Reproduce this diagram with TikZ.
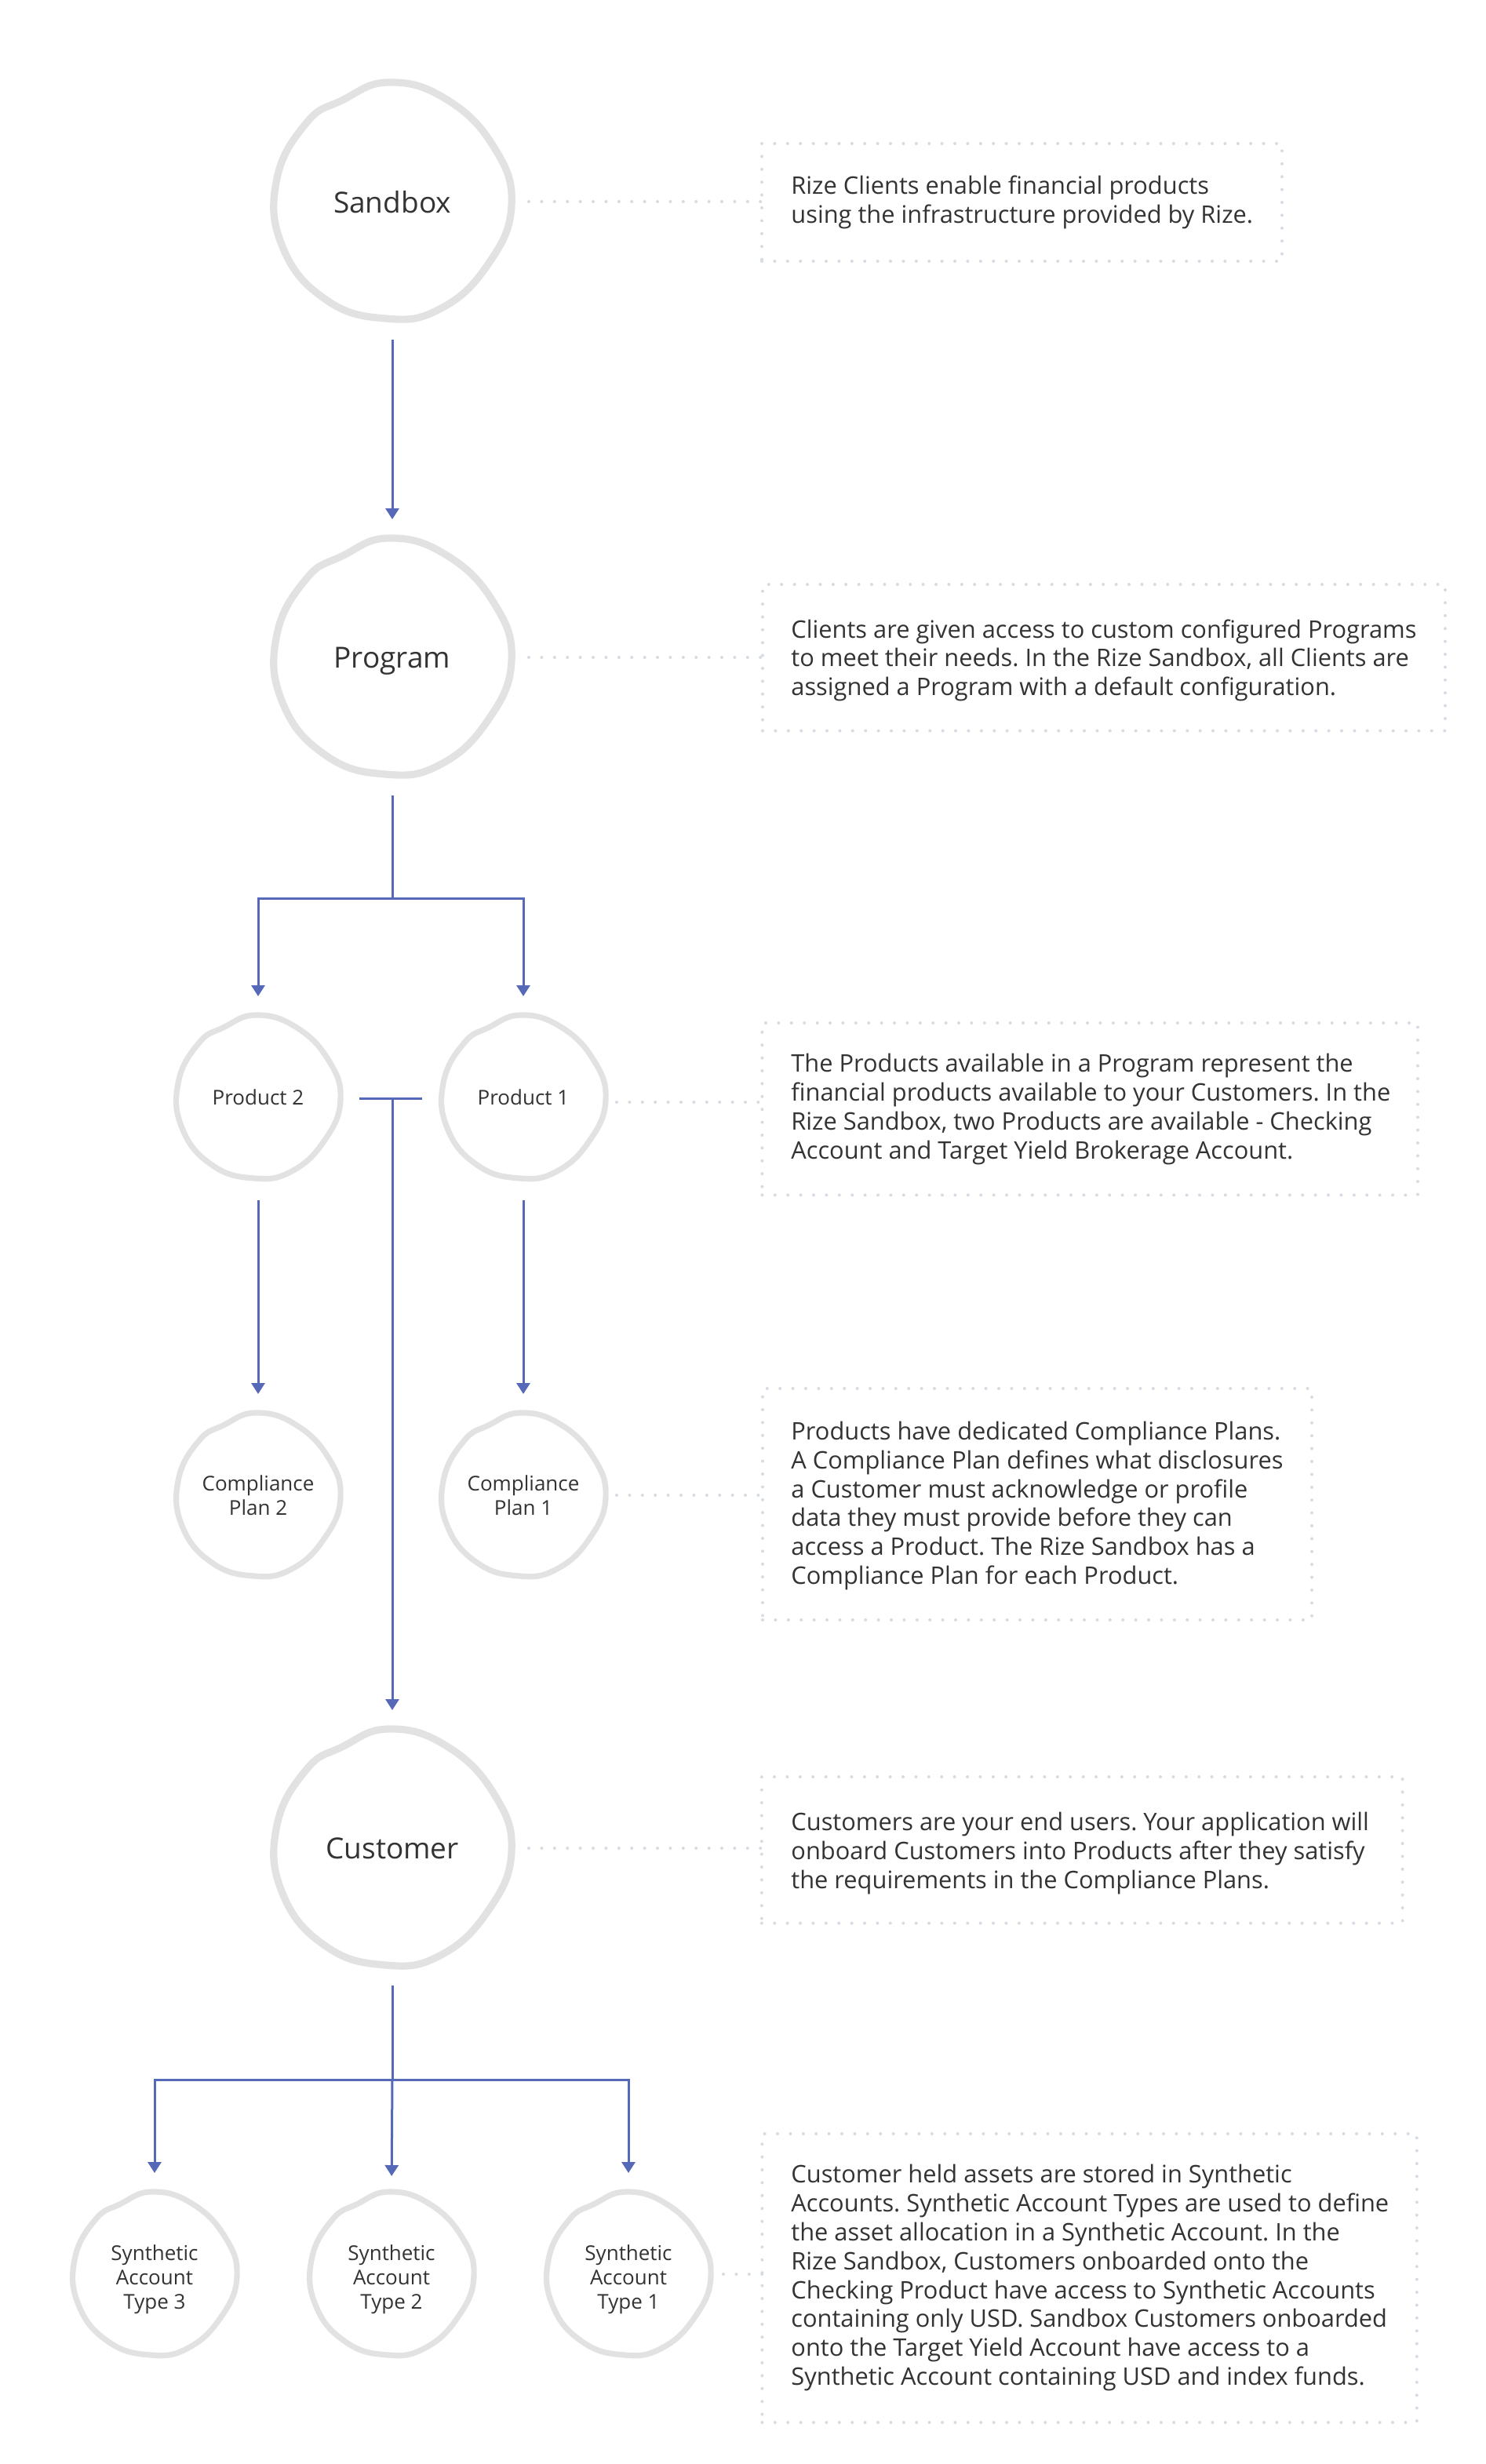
\documentclass[tikz,border=0pt]{standalone}
\usepackage{fontspec}
\setmainfont{Open Sans}
\frenchspacing
\usetikzlibrary{arrows.meta,calc}
\definecolor{flowblue}{RGB}{86,105,184}
\definecolor{ringgray}{RGB}{226,226,226}
\definecolor{dotgray}{RGB}{214,220,227}
\definecolor{txtgray}{RGB}{51,51,51}
\tikzset{
  ringnode/.style={circle, draw=none, inner sep=0pt, outer sep=0pt, text=txtgray, align=center, text depth=0pt},
  bigring/.style={ringnode, minimum size=152pt, font=\fontsize{18.5}{22}\selectfont},
  smallring/.style={ringnode, minimum size=105pt, font=\fontsize{13}{15.5}\selectfont},
  flowline/.style={draw=flowblue, line width=1.5pt},
  flowarrow/.style={flowline, -{Triangle[length=7pt,width=8.5pt]}},
  dotline/.style={draw=dotgray, line width=2pt, line cap=round, dash pattern=on 0pt off 8.2pt},
  notebox/.style={rectangle, dotline, anchor=north west, inner sep=0pt, outer sep=0pt},
  notetext/.style={anchor=north west, inner sep=0pt, align=left, text=txtgray, font=\fontsize{15.4}{18.4}\selectfont},
  blobline/.style={draw=ringgray, line join=round},
}
\newcommand{\blobring}[3]{%
  \draw[blobline, line width=#3, shift={#1}, scale=#2]
    plot[smooth cycle, tension=0.75] coordinates {
      (-0.03,-1.0) (0.45,-0.86) (0.85,-0.46) (1.0,0.03) (0.8,0.53)
      (0.4,0.9) (-0.06,0.98) (-0.56,0.82) (-0.92,0.38) (-0.97,-0.18)
      (-0.72,-0.66) (-0.42,-0.85)};}
\begin{document}
\begin{tikzpicture}[x=1pt,y=-1pt]
\fill[white] (0,0) rectangle (947,1570.5);
\useasboundingbox (0,0) rectangle (947,1570.5);

% circle nodes
\node[bigring] (sandbox) at (250,128.5) {Sandbox};
\node[bigring] (program) at (250,419) {Program};
\node[smallring] (product2) at (164.5,699.5) {Product 2};
\node[smallring] (product1) at (333.5,699.5) {Product 1};
\node[smallring] (plan2) at (164.5,953) {Compliance\\Plan 2};
\node[smallring] (plan1) at (333.5,953) {Compliance\\Plan 1};
\node[bigring] (customer) at (250,1178) {Customer};
\node[smallring] (sat3) at (98.5,1451.5) {Synthetic\\Account\\Type 3};
\node[smallring] (sat2) at (249.5,1451.5) {Synthetic\\Account\\Type 2};
\node[smallring] (sat1) at (400.5,1451.5) {Synthetic\\Account\\Type 1};

% hand-drawn rings
\blobring{(sandbox.center)}{76}{4.6}
\blobring{(program.center)}{76}{4.6}
\blobring{(customer.center)}{76}{4.6}
\blobring{(product2.center)}{52.5}{3.6}
\blobring{(product1.center)}{52.5}{3.6}
\blobring{(plan2.center)}{52.5}{3.6}
\blobring{(plan1.center)}{52.5}{3.6}
\blobring{([yshift=2pt]sat3.center)}{52.5}{3.6}
\blobring{([yshift=2pt]sat2.center)}{52.5}{3.6}
\blobring{([yshift=2pt]sat1.center)}{52.5}{3.6}

% note boxes
\node[notebox, minimum width=331.5pt, minimum height=75pt] (note1) at (485.5,91.5) {};
\node[notebox, minimum width=435pt, minimum height=93.3pt] (note2) at (486,372.5) {};
\node[notebox, minimum width=417.8pt, minimum height=109.7pt] (note3) at (485.7,652) {};
\node[notebox, minimum width=350pt, minimum height=147.5pt] (note4) at (486,885) {};
\node[notebox, minimum width=408.4pt, minimum height=93.3pt] (note5) at (485.4,1132.5) {};
\node[notebox, minimum width=417.2pt, minimum height=184pt] (note6) at (485.7,1360) {};

% note texts
\node[notetext] (text1) at (504,111.8) {Rize Clients enable financial products\\using the infrastructure provided by Rize.};
\node[notetext] (text2) at (504,394.6) {Clients are given access to custom configured Programs\\to meet their needs. In the Rize Sandbox, all Clients are\\assigned a Program with a default configuration.};
\node[notetext] (text3) at (504,671.5) {The Products available in a Program represent the\\financial products available to your Customers. In the\\Rize Sandbox, two Products are available - Checking\\Account and Target Yield Brokerage Account.};
\node[notetext] (text4) at (504,905.8) {Products have dedicated Compliance Plans.\\A Compliance Plan defines what disclosures\\a Customer must acknowledge or profile\\data they must provide before they can\\access a Product. The Rize Sandbox has a\\Compliance Plan for each Product.};
\node[notetext] (text5) at (504,1155) {Customers are your end users. Your application will\\onboard Customers into Products after they satisfy\\the requirements in the Compliance Plans.};
\node[notetext] (text6) at (504,1379.5) {Customer held assets are stored in Synthetic\\Accounts. Synthetic Account Types are used to define\\the asset allocation in a Synthetic Account. In the\\Rize Sandbox, Customers onboarded onto the\\Checking Product have access to Synthetic Accounts\\containing only USD. Sandbox Customers onboarded\\onto the Target Yield Account have access to a\\Synthetic Account containing USD and index funds.};

% dotted connectors
\draw[dotline] ([xshift=11pt]sandbox.east) -- (sandbox.east -| note1.west);
\draw[dotline] ([xshift=11pt]program.east) -- (program.east -| note2.west);
\draw[dotline] ([xshift=7pt,yshift=-3pt]product1.east) -- ([yshift=-3pt]product1.east -| note3.west);
\draw[dotline] ([xshift=7pt]plan1.east) -- (plan1.east -| note4.west);
\draw[dotline] ([xshift=11pt]customer.east) -- (customer.east -| note5.west);
\draw[dotline] ([xshift=8pt,yshift=2pt]sat1.east) -- ([yshift=2pt]sat1.east -| note6.west);

% flow connectors
\draw[flowarrow, shorten <=12pt, shorten >=12pt] (sandbox.south) -- (program.north);

\coordinate (progjoin) at ($(program.south)+(0,77.5)$);
\draw[flowline, shorten <=12pt] (program.south) -- (progjoin);
\draw[flowarrow, shorten >=12pt] (progjoin) -| (product2.north);
\draw[flowarrow, shorten >=12pt] (progjoin) -| (product1.north);

\draw[flowarrow, shorten <=13pt, shorten >=12pt] (product2.south) -- (plan2.north);
\draw[flowarrow, shorten <=13pt, shorten >=12pt] (product1.south) -- (plan1.north);

\coordinate (tbarleft) at (229,700);
\coordinate (tbarright) at (269,700);
\coordinate (tbarmid) at (250,700);
\draw[flowline] (tbarleft) -- (tbarright);
\draw[flowarrow, shorten >=12pt] (tbarmid) -- (customer.north);

\coordinate (custjoin) at ($(customer.south)+(0,71.5)$);
\draw[flowline, shorten <=11.5pt] (customer.south) -- (custjoin);
\draw[flowarrow, shorten >=14pt] (custjoin) -| (sat3.north);
\draw[flowarrow, shorten >=12pt] (custjoin) -- (sat2.north);
\draw[flowarrow, shorten >=14pt] (custjoin) -| (sat1.north);
\end{tikzpicture}
\end{document}
